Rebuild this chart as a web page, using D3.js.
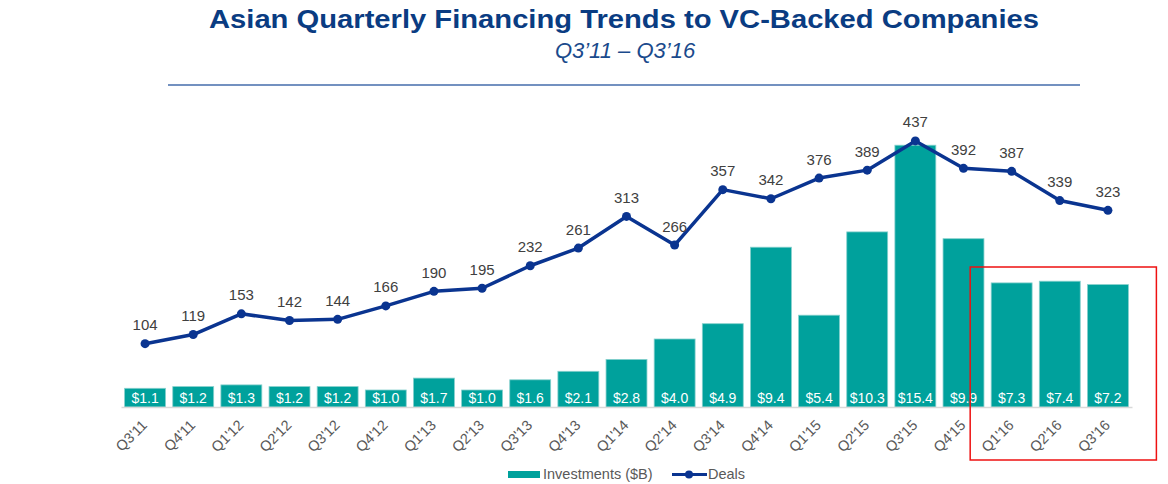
<!DOCTYPE html>
<html>
<head>
<meta charset="utf-8">
<script src="https://cdnjs.cloudflare.com/ajax/libs/d3/7.8.5/d3.min.js"></script>
<style>
  body { margin: 0; background: #fff; }
  svg { font-family: "Liberation Sans", Arial, sans-serif; }
</style>
</head>
<body>
<div id="chart"></div>
<script>
const quarters = ["Q3'11","Q4'11","Q1'12","Q2'12","Q3'12","Q4'12","Q1'13","Q2'13","Q3'13","Q4'13",
  "Q1'14","Q2'14","Q3'14","Q4'14","Q1'15","Q2'15","Q3'15","Q4'15","Q1'16","Q2'16","Q3'16"];
const investments = [1.1,1.2,1.3,1.2,1.2,1.0,1.7,1.0,1.6,2.1,2.8,4.0,4.9,9.4,5.4,10.3,15.4,9.9,7.3,7.4,7.2];
const deals = [104,119,153,142,144,166,190,195,232,261,313,266,357,342,376,389,437,392,387,339,323];
const highlighted = ["Q1'16","Q2'16","Q3'16"];

const width = 1168, height = 484;
const teal = "#00a19c", navy = "#0a3490", titleBlue = "#0a3c82";

const svg = d3.select("#chart").append("svg")
    .attr("width", width)
    .attr("height", height);

// title block
svg.append("text")
    .attr("x", 624).attr("y", 28)
    .attr("text-anchor", "middle")
    .attr("font-size", 25.5).attr("font-weight", "bold")
    .attr("fill", titleBlue)
    .attr("textLength", 830)
    .attr("lengthAdjust", "spacingAndGlyphs")
    .text("Asian Quarterly Financing Trends to VC-Backed Companies");

svg.append("text")
    .attr("x", 625).attr("y", 58)
    .attr("text-anchor", "middle")
    .attr("font-size", 22).attr("font-style", "italic")
    .attr("fill", "#1a4a8c")
    .text("Q3\u201911 \u2013 Q3\u201916");

svg.append("line")
    .attr("x1", 168).attr("x2", 1080)
    .attr("y1", 85).attr("y2", 85)
    .attr("stroke", "#7391c0").attr("stroke-width", 2);

// scales
const x = d3.scaleBand()
    .domain(quarters)
    .range([121, 1132])
    .paddingInner(0.15)
    .paddingOuter(0.075);

const yBar = d3.scaleLinear().domain([0, 16]).range([407, 135]);
const yLine = d3.scaleLinear().domain([0, 450]).range([407, 133]);

// bars
svg.selectAll(".bar")
  .data(quarters)
  .enter().append("rect")
    .attr("class", "bar")
    .attr("x", d => x(d))
    .attr("width", x.bandwidth())
    .attr("y", (d, i) => yBar(investments[i]))
    .attr("height", (d, i) => yBar(0) - yBar(investments[i]))
    .attr("fill", teal)
    .attr("stroke", "#86d0cd")
    .attr("stroke-width", 0.8);

svg.selectAll(".bar-label")
  .data(quarters)
  .enter().append("text")
    .attr("class", "bar-label")
    .attr("x", d => x(d) + x.bandwidth() / 2)
    .attr("y", yBar(0) - 4.5)
    .attr("text-anchor", "middle")
    .attr("font-size", 14)
    .attr("fill", "#fff")
    .text((d, i) => "$" + investments[i].toFixed(1));

// x axis
const xAxis = svg.append("g")
    .attr("transform", `translate(0,${yBar(0)})`)
    .call(d3.axisBottom(x).tickSize(0).tickPadding(0));
xAxis.select(".domain").attr("stroke", "#d9d9d9").attr("stroke-width", 1.5);
xAxis.selectAll("text")
    .attr("font-family", "Liberation Sans, Arial, sans-serif")
    .attr("font-size", 14.5)
    .attr("fill", "#595959")
    .attr("text-anchor", "end")
    .attr("dy", 0)
    .attr("y", 0)
    .attr("transform", "translate(3,19) rotate(-45)");

// deals line
const line = d3.line()
    .x((d, i) => x(quarters[i]) + x.bandwidth() / 2)
    .y(d => yLine(d));

svg.append("path")
    .datum(deals)
    .attr("d", line)
    .attr("fill", "none")
    .attr("stroke", navy)
    .attr("stroke-width", 3.5)
    .attr("stroke-linejoin", "round");

svg.selectAll(".dot")
  .data(deals)
  .enter().append("circle")
    .attr("class", "dot")
    .attr("cx", (d, i) => x(quarters[i]) + x.bandwidth() / 2)
    .attr("cy", d => yLine(d))
    .attr("r", 4.5)
    .attr("fill", navy);

svg.selectAll(".deal-label")
  .data(deals)
  .enter().append("text")
    .attr("class", "deal-label")
    .attr("x", (d, i) => x(quarters[i]) + x.bandwidth() / 2)
    .attr("y", d => yLine(d) - 13.5)
    .attr("text-anchor", "middle")
    .attr("font-size", 15)
    .attr("fill", "#404040")
    .text(d => d);

// highlight box round the last three quarters
const first = highlighted[0], last = highlighted[highlighted.length - 1];
svg.append("rect")
    .attr("x", x(first) - 21)
    .attr("y", 267)
    .attr("width", x(last) + x.bandwidth() - x(first) + 21 + 28)
    .attr("height", 193)
    .attr("fill", "none")
    .attr("stroke", "#ee1111")
    .attr("stroke-width", 1.5);

// legend
const legend = svg.append("g");
legend.append("rect")
    .attr("x", 508).attr("y", 471)
    .attr("width", 32).attr("height", 7)
    .attr("fill", teal);
legend.append("text")
    .attr("x", 543).attr("y", 479)
    .attr("font-size", 14.5).attr("fill", "#595959")
    .text("Investments ($B)");
legend.append("line")
    .attr("x1", 672).attr("x2", 707)
    .attr("y1", 474.5).attr("y2", 474.5)
    .attr("stroke", navy).attr("stroke-width", 3);
legend.append("circle")
    .attr("cx", 689).attr("cy", 474.5).attr("r", 4)
    .attr("fill", navy);
legend.append("text")
    .attr("x", 708).attr("y", 479)
    .attr("font-size", 14.5).attr("fill", "#595959")
    .text("Deals");
</script>
</body>
</html>
